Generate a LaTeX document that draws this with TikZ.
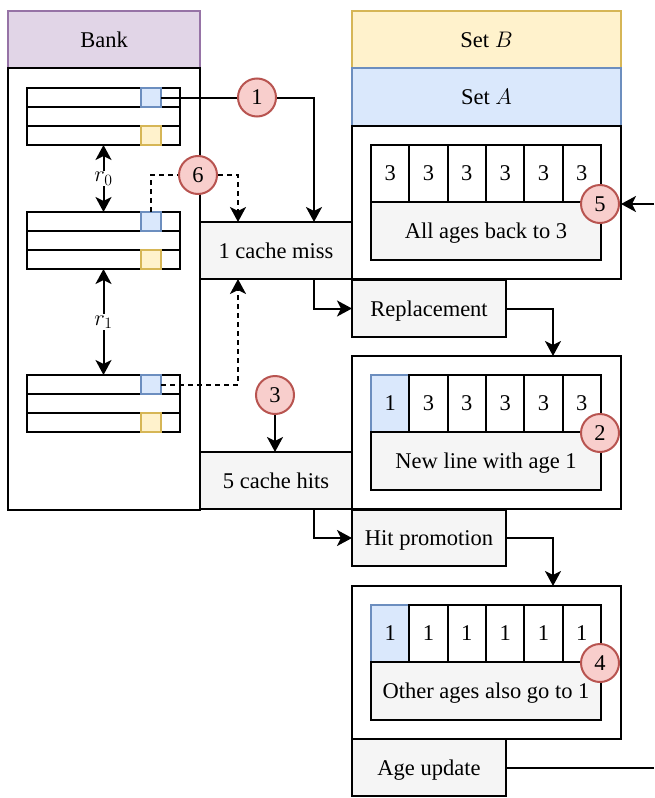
\RequirePackage{fix-cm}
\documentclass[tikz,border=0pt]{standalone}
\usepackage{fontspec}
\setmainfont{Liberation Serif}
\usetikzlibrary{arrows.meta,calc}
\definecolor{purplefill}{HTML}{E1D5E7}
\definecolor{purpledraw}{HTML}{9673A6}
\definecolor{yellowfill}{HTML}{FFF2CC}
\definecolor{yellowdraw}{HTML}{D6B656}
\definecolor{bluefill}{HTML}{DAE8FC}
\definecolor{bluedraw}{HTML}{6C8EBF}
\definecolor{redfill}{HTML}{F8CECC}
\definecolor{reddraw}{HTML}{B85450}
\definecolor{grayfill}{HTML}{F5F5F5}
\newcommand\fs{\fontsize{22.5}{27}\selectfont}
\begin{document}
\begin{tikzpicture}[x=1pt,y=-1pt,
  box/.style={draw, line width=2pt, inner sep=0pt, outer sep=0pt, anchor=north west, font=\fs, text depth=0pt},
  graybox/.style={box, fill=grayfill},
  circ/.style={circle, draw=reddraw, fill=redfill, line width=2pt, minimum size=38pt, inner sep=0pt, font=\fs, text depth=0pt},
  conn/.style={line width=2pt},
  tip/.tip={Stealth[length=15pt,width=16pt,inset=4pt]},
  arr/.style={conn, -tip},
  darr/.style={arr, dash pattern=on 5pt off 4pt},
  dline/.style={conn, dash pattern=on 5pt off 4pt},
  dbl/.style={conn, tip-tip}
]
\fill[white] (0,0) rectangle (654,798);
\useasboundingbox (0,0) rectangle (654,798);

% Bank
\node[box, fill=purplefill, draw=purpledraw, minimum width=192pt, minimum height=57pt] (bankhead) at (8,11) {Bank};
\node[box, minimum width=192pt, minimum height=442pt] (bankbody) at (8,68) {};

\foreach \g/\y in {1/88,2/212,3/375}{
  \node[box, minimum width=153pt, minimum height=19pt] (g\g a) at (27,\y) {};
  \node[box, minimum width=153pt, minimum height=19pt] (g\g b) at (27,\y+19) {};
  \node[box, minimum width=153pt, minimum height=19pt] (g\g c) at (27,\y+38) {};
  \node[box, fill=bluefill, draw=bluedraw, minimum width=20pt, minimum height=19pt] (g\g blue) at (141,\y) {};
  \node[box, fill=yellowfill, draw=yellowdraw, minimum width=20pt, minimum height=19pt] (g\g yel) at (141,\y+38) {};
}
\draw[dbl] (g1c.south) -- node[fill=white, inner sep=1pt, font=\fs]{$r_0$} (g2a.north);
\draw[dbl] (g2c.south) -- node[fill=white, inner sep=1pt, font=\fs]{$r_1$} (g3a.north);

% Left process boxes
\node[graybox, minimum width=152pt, minimum height=57pt] (miss) at (200,222) {1 cache miss};
\node[graybox, minimum width=152pt, minimum height=57pt] (hits) at (200,452) {5 cache hits};

% Sets
\node[box, fill=yellowfill, draw=yellowdraw, minimum width=269pt, minimum height=57pt] (setB) at (352,11) {Set $B$};
\node[box, fill=bluefill, draw=bluedraw, minimum width=269pt, minimum height=58pt] (setA) at (352,68) {Set $A$};
\node[box, minimum width=269pt, minimum height=153pt] (bodyA) at (352,126) {};
\foreach \i in {1,...,6}{
  \node[box, minimum width=38.33pt, minimum height=57pt] (A\i) at ({371+(\i-1)*38.333},145) {3};
}
\node[graybox, minimum width=230pt, minimum height=58pt] (Atext) at (371,202) {All ages back to 3};

% Replacement
\node[graybox, minimum width=154pt, minimum height=57pt] (repl) at (352,280) {Replacement};
\node[box, minimum width=269pt, minimum height=153pt] (box2) at (352,356) {};
\node[box, fill=bluefill, draw=bluedraw, minimum width=38.33pt, minimum height=57pt] (B1) at (371,375) {1};
\foreach \i in {2,...,6}{
  \node[box, minimum width=38.33pt, minimum height=57pt] (B\i) at ({371+(\i-1)*38.333},375) {3};
}
\node[graybox, minimum width=230pt, minimum height=58pt] (Btext) at (371,432) {New line with age 1};

% Hit promotion
\node[graybox, minimum width=154pt, minimum height=56pt] (hitp) at (352,510) {Hit promotion};
\node[box, minimum width=269pt, minimum height=153pt] (box4) at (352,586) {};
\node[box, fill=bluefill, draw=bluedraw, minimum width=38.33pt, minimum height=57pt] (C1) at (371,605) {1};
\foreach \i in {2,...,6}{
  \node[box, minimum width=38.33pt, minimum height=57pt] (C\i) at ({371+(\i-1)*38.333},605) {1};
}
\node[graybox, minimum width=230pt, minimum height=58pt] (Ctext) at (371,662) {Other ages also go to 1};
\node[graybox, minimum width=154pt, minimum height=57pt] (age) at (352,739) {Age update};

% Circles
\node[circ] (c1) at (257,97.5) {1};
\node[circ] (c6) at (198,175) {6};
\node[circ] (c3) at (275,395) {3};
\node[circ] (c5) at (600,204) {5};
\node[circ] (c2) at (600,433) {2};
\node[circ] (c4) at (600,663) {4};

\coordinate (in5) at (654,204);
\coordinate (outage) at (654,767.5);

% Connectors
\draw[conn] (g1blue.east) -- (c1.west);
\draw[arr] (c1.east) -| ([xshift=114pt]miss.north west);
\draw[dline] (g2blue.north) |- (c6.west);
\draw[darr] (c6.east) -| ([xshift=38pt]miss.north west);
\draw[darr] (g3blue.east) -| ([xshift=38pt]miss.south west);
\draw[arr] (c3.south) -- (c3.south |- hits.north);
\draw[arr] ([xshift=114pt]miss.south west) |- (repl.west);
\draw[arr] (repl.east) -| ([xshift=201pt]box2.north west);
\draw[arr] ([xshift=114pt]hits.south west) |- (hitp.west);
\draw[arr] (hitp.east) -| ([xshift=201pt]box4.north west);
\draw[conn] (age.east) -- (outage);
\draw[arr] (in5) -- (bodyA.east |- in5);
\end{tikzpicture}
\end{document}
